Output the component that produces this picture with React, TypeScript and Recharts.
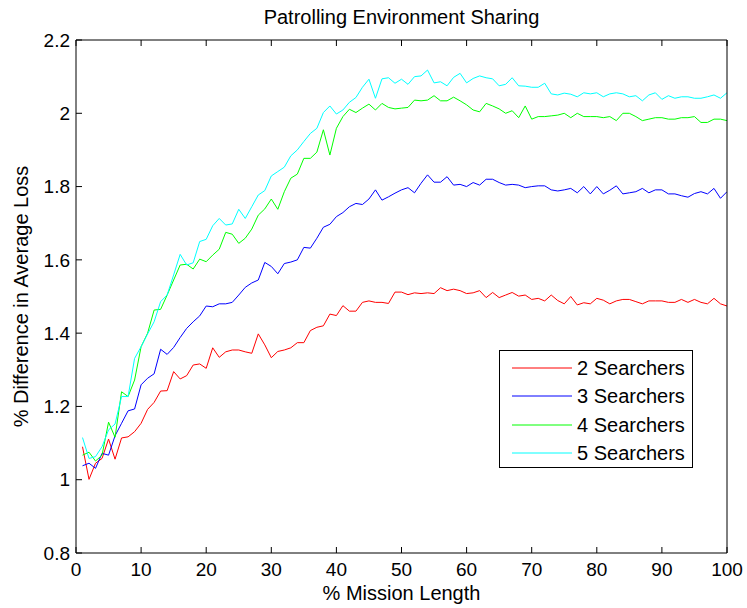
import React from 'react';
import { LineChart, Line, XAxis, YAxis, Legend, Label } from 'recharts';

const missionPct: number[] = Array.from({ length: 100 }, (_, i) => i + 1);

const searchers2: number[] = [
  1.09, 1.001, 1.045, 1.058, 1.111, 1.056, 1.114, 1.117, 1.131, 1.154,
  1.192, 1.211, 1.242, 1.243, 1.295, 1.275, 1.284, 1.313, 1.316, 1.304,
  1.36, 1.334, 1.349, 1.354, 1.354, 1.349, 1.345, 1.398, 1.368, 1.333,
  1.35, 1.354, 1.36, 1.374, 1.374, 1.407, 1.416, 1.42, 1.452, 1.448,
  1.475, 1.46, 1.46, 1.484, 1.488, 1.484, 1.484, 1.481, 1.512, 1.512,
  1.505, 1.51, 1.508, 1.51, 1.508, 1.524, 1.516, 1.52, 1.516, 1.508,
  1.51, 1.516, 1.497, 1.511, 1.497, 1.504, 1.511, 1.501, 1.504, 1.492,
  1.495, 1.488, 1.504, 1.489, 1.48, 1.5, 1.477, 1.483, 1.48, 1.495,
  1.49, 1.48, 1.488, 1.492, 1.492, 1.486, 1.48, 1.488, 1.488, 1.488,
  1.484, 1.484, 1.492, 1.484, 1.492, 1.484, 1.48, 1.495, 1.48, 1.474,
];

const searchers3: number[] = [
  1.038, 1.045, 1.031, 1.072, 1.067, 1.12, 1.154, 1.188, 1.193, 1.259,
  1.277, 1.289, 1.356, 1.342, 1.361, 1.388, 1.413, 1.431, 1.447, 1.474,
  1.472, 1.48, 1.48, 1.484, 1.504, 1.525, 1.537, 1.545, 1.593, 1.582,
  1.562, 1.59, 1.594, 1.6, 1.634, 1.632, 1.659, 1.689, 1.697, 1.718,
  1.729, 1.745, 1.754, 1.751, 1.766, 1.791, 1.763, 1.772, 1.782, 1.791,
  1.797, 1.783, 1.809, 1.832, 1.812, 1.812, 1.827, 1.804, 1.806, 1.8,
  1.811, 1.804, 1.82, 1.82, 1.811, 1.804, 1.806, 1.804, 1.797, 1.8,
  1.802, 1.802, 1.791, 1.788, 1.791, 1.795, 1.783, 1.8, 1.78, 1.8,
  1.78, 1.79, 1.802, 1.78, 1.783, 1.786, 1.795, 1.783, 1.791, 1.791,
  1.78, 1.78, 1.775, 1.771, 1.781, 1.786, 1.78, 1.795, 1.768, 1.786,
];

const searchers4: number[] = [
  1.067, 1.075, 1.051, 1.067, 1.157, 1.116, 1.24, 1.227, 1.272, 1.363,
  1.4, 1.463, 1.465, 1.504, 1.545, 1.586, 1.588, 1.575, 1.602, 1.595,
  1.613, 1.629, 1.675, 1.67, 1.645, 1.659, 1.684, 1.722, 1.739, 1.766,
  1.738, 1.786, 1.823, 1.834, 1.877, 1.877, 1.894, 1.955, 1.886, 1.959,
  1.991, 2.011, 2.002, 2.014, 2.025, 2.009, 2.027, 2.016, 2.012, 2.014,
  2.016, 2.036, 2.034, 2.036, 2.048, 2.034, 2.034, 2.044, 2.034, 2.023,
  2.009, 2.004, 2.027, 2.02, 2.012, 2.0, 2.007, 1.988, 2.02, 1.984,
  1.991, 1.991, 1.993, 1.995, 2.0, 1.988, 2.0, 1.991, 1.991, 1.991,
  1.988, 1.991, 1.98, 2.0, 2.0, 1.991, 1.98, 1.984, 1.988, 1.988,
  1.984, 1.984, 1.988, 1.988, 1.991, 1.975, 1.975, 1.984, 1.984, 1.98,
];

const searchers5: number[] = [
  1.115, 1.058, 1.063, 1.09, 1.136, 1.152, 1.227, 1.227, 1.331, 1.363,
  1.398, 1.431, 1.486, 1.504, 1.559, 1.615, 1.586, 1.592, 1.65, 1.656,
  1.693, 1.713, 1.695, 1.698, 1.738, 1.713, 1.745, 1.777, 1.789, 1.829,
  1.841, 1.853, 1.884, 1.9, 1.923, 1.945, 1.959, 2.002, 2.02, 1.998,
  2.009, 2.03, 2.043, 2.071, 2.093, 2.041, 2.094, 2.097, 2.082, 2.093,
  2.079, 2.1, 2.102, 2.118, 2.083, 2.086, 2.075, 2.098, 2.109, 2.083,
  2.095, 2.102, 2.097, 2.094, 2.075, 2.079, 2.097, 2.075, 2.074, 2.071,
  2.071, 2.082, 2.053, 2.05, 2.055, 2.052, 2.045, 2.056, 2.053, 2.056,
  2.045, 2.053, 2.056, 2.053, 2.045, 2.048, 2.034, 2.05, 2.056, 2.038,
  2.048, 2.041, 2.045, 2.045, 2.041, 2.041, 2.045, 2.05, 2.041, 2.056,
];

const xTicks: number[] = [0, 10, 20, 30, 40, 50, 60, 70, 80, 90, 100];
const yTicks: number[] = [0.8, 1, 1.2, 1.4, 1.6, 1.8, 2, 2.2];

const seriesNames: string[] = ['2 Searchers', '3 Searchers', '4 Searchers', '5 Searchers'];
const seriesColors: string[] = ['#ff0000', '#0000ff', '#00ff00', '#00ffff'];

const data = missionPct.map((x, i) => ({
  x,
  s2: searchers2[i],
  s3: searchers3[i],
  s4: searchers4[i],
  s5: searchers5[i],
}));

const FONT = '"Liberation Sans", Arial, Helvetica, sans-serif';
const FS = 19;
const LFS = 20;

const fmt = (v: number) => String(Math.round(v * 10) / 10);

const LegendBox = (props: any) => {
  const payload = props.payload || [];
  return (
    <div
      style={{
        width: 194,
        height: 118,
        boxSizing: 'border-box',
        border: '1px solid #000',
        background: '#fff',
        paddingTop: 3,
        fontFamily: FONT,
        fontSize: LFS,
        color: '#000',
      }}
    >
      {payload.map((p: any, i: number) => (
        <div key={i} style={{ height: 28.3, display: 'flex', alignItems: 'center' }}>
          <svg width={72} height={10} style={{ marginLeft: 11 }}>
            <line x1={1} y1={5} x2={61} y2={5} stroke={p.color} strokeWidth={1} />
          </svg>
          <span style={{ marginLeft: -6, lineHeight: '20px' }}>{p.value}</span>
        </div>
      ))}
    </div>
  );
};

const YLabel = (props: any) => {
  const vb = props.viewBox || { x: 36, y: 40, width: 40, height: 513 };
  const cx = vb.x + vb.width - 48;
  const cy = vb.y + vb.height / 2;
  return (
    <text
      x={cx}
      y={cy}
      transform={`rotate(-90, ${cx}, ${cy})`}
      textAnchor="middle"
      fontFamily={FONT}
      fontSize={LFS}
      fill="#000"
    >
      % Difference in Average Loss
    </text>
  );
};

export default function App() {
  const tickStyle = { fontFamily: FONT, fontSize: FS, fill: '#000' };
  return (
    <div style={{ position: 'absolute', left: 0, top: 0, width: 747, height: 608, background: '#fff' }}>
      <LineChart
        width={747}
        height={608}
        data={data}
        margin={{ top: 39, right: 19, left: 36, bottom: 25 }}
      >
        <XAxis
          xAxisId="bottom"
          dataKey="x"
          type="number"
          domain={[0, 100]}
          ticks={xTicks}
          height={30}
          stroke="#000"
          tickSize={-6}
          tickMargin={16}
          tick={tickStyle}
          tickLine={{ stroke: '#000' }}
          axisLine={{ stroke: '#000' }}
          allowDataOverflow
        >
          <Label
            value="% Mission Length"
            position="bottom"
            offset={3}
            style={{ fontFamily: FONT, fontSize: LFS, fill: '#000' }}
          />
        </XAxis>
        <XAxis
          xAxisId="top"
          orientation="top"
          dataKey="x"
          type="number"
          domain={[0, 100]}
          ticks={xTicks}
          height={1}
          stroke="#000"
          tickSize={-6}
          tickFormatter={() => ''}
          tickLine={{ stroke: '#000' }}
          axisLine={{ stroke: '#000' }}
        >
          <Label
            value="Patrolling Environment Sharing"
            position="top"
            offset={15}
            style={{ fontFamily: FONT, fontSize: LFS, fill: '#000' }}
          />
        </XAxis>
        <YAxis
          yAxisId="left"
          type="number"
          domain={[0.8, 2.2]}
          ticks={yTicks}
          width={40}
          stroke="#000"
          tickSize={-6}
          tickMargin={12}
          tick={tickStyle}
          tickFormatter={fmt}
          tickLine={{ stroke: '#000' }}
          axisLine={{ stroke: '#000' }}
          allowDataOverflow
        >
          <Label content={<YLabel />} />
        </YAxis>
        <YAxis
          yAxisId="right"
          orientation="right"
          type="number"
          domain={[0.8, 2.2]}
          ticks={yTicks}
          width={1}
          stroke="#000"
          tickSize={-6}
          tickFormatter={() => ''}
          tickLine={{ stroke: '#000' }}
          axisLine={{ stroke: '#000' }}
        />
        <Legend
          layout="vertical"
          align="center"
          verticalAlign="middle"
          content={<LegendBox />}
          wrapperStyle={{ left: 499, top: 350, width: 194, height: 118 }}
        />
        {['s2', 's3', 's4', 's5'].map((k, i) => (
          <Line
            key={k}
            xAxisId="bottom"
            yAxisId="left"
            type="linear"
            dataKey={k}
            name={seriesNames[i]}
            stroke={seriesColors[i]}
            strokeWidth={1}
            dot={false}
            activeDot={false}
            isAnimationActive={false}
          />
        ))}
      </LineChart>
    </div>
  );
}
